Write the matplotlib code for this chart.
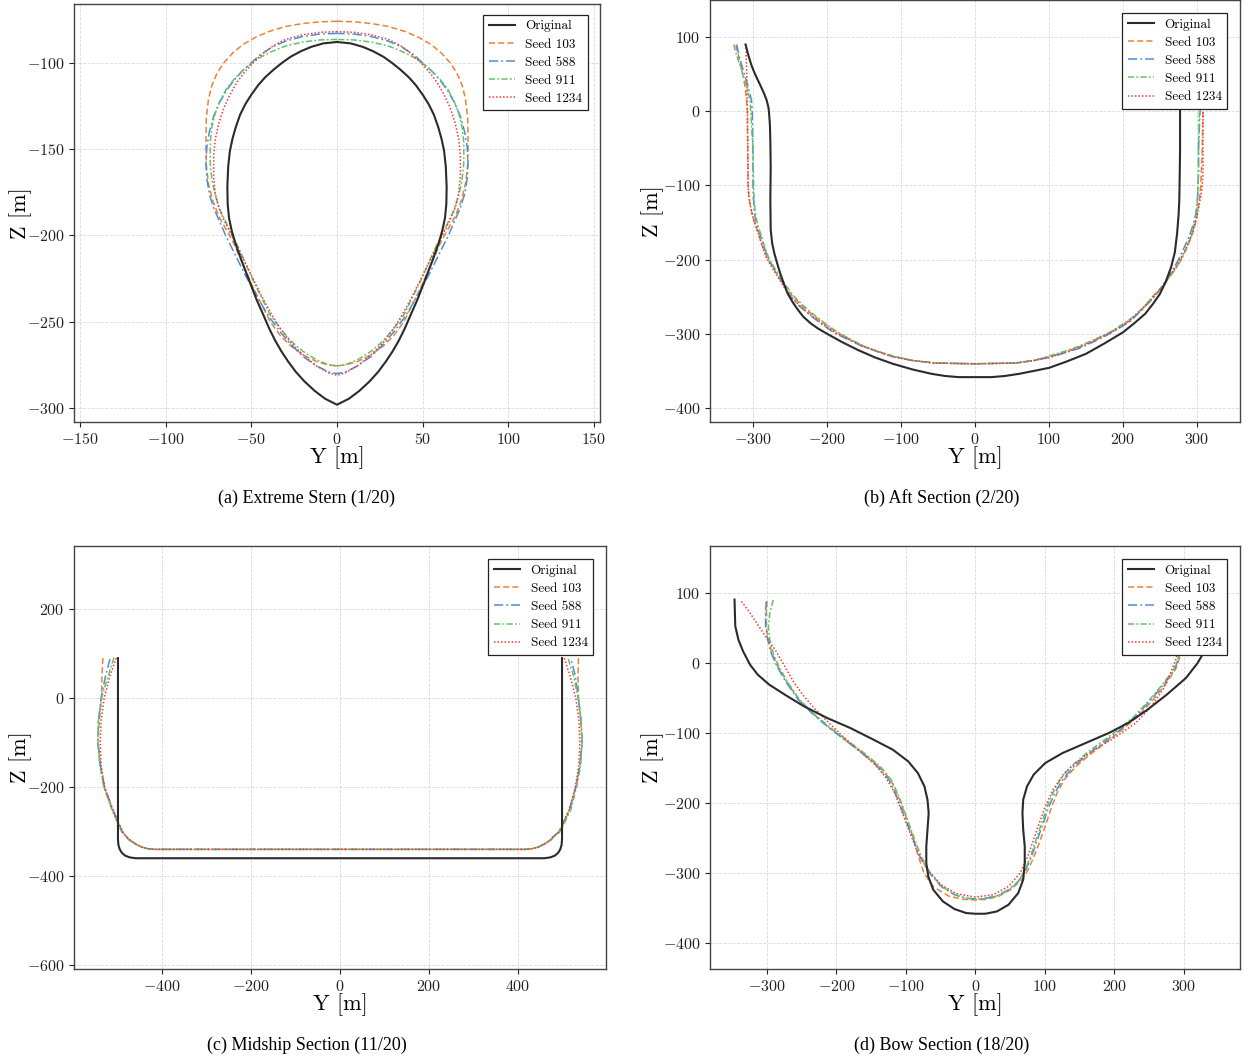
import matplotlib
matplotlib.use("Agg")
import matplotlib.pyplot as plt
import numpy as np

plt.rcParams['font.family'] = 'serif'
plt.rcParams['font.serif'] = ['cmr10', 'DejaVu Serif']
plt.rcParams['mathtext.fontset'] = 'cm'
plt.rcParams['axes.formatter.use_mathtext'] = True
plt.rcParams['axes.unicode_minus'] = True

labels = ['Original', 'Seed 103', 'Seed 588', 'Seed 911', 'Seed 1234']
colors = ['#2b2b2b', '#e8843a', '#4a90d9', '#66c266', '#ee3b3b']
styles = ['-', (0, (4, 2)), (0, (6, 2, 1.2, 2)), (0, (4, 1.5, 1.2, 1.5)), (0, (1, 1.3))]
widths = [1.5, 1.1, 1.1, 1.1, 1.1]

# (a) extreme stern: starboard half profiles (top -> keel), mirrored to port
a_orig_y = [0, 8, 15, 21, 27, 32, 37, 42, 46, 50, 53.5, 56.5, 59, 61, 62.5, 63.5, 64, 63.8, 63, 61.5, 59.5, 57, 54, 50.5, 47, 43, 39.5, 36, 32.5, 28.5, 24, 19, 13, 7, 0]
a_orig_z = [-88, -88.8, -90.8, -93.3, -96.5, -100, -104, -108.5, -113, -118.5, -124, -130, -137, -144, -151, -160, -172, -182, -190, -197, -204, -211, -219, -228, -237, -246, -254, -261, -267, -273, -279, -284.5, -290, -294.5, -298]
a_s103_y = [0, 10, 20, 30, 40, 48, 55, 61, 66, 70, 73, 75, 76.3, 76.5, 76.2, 75, 72.5, 69, 65, 61, 57, 53, 49, 44, 39, 33, 27, 20, 12, 5, 0]
a_s103_z = [-76, -76.3, -77.3, -79, -82, -85.5, -89.5, -94.5, -100, -106, -113, -121, -132, -148, -160, -170, -180, -189, -196, -203, -212, -221, -230, -240, -250, -258, -264, -269, -273, -275, -275.5]
a_s588_y = [0, 10, 20, 30, 38, 45, 50, 55, 60, 64.5, 68.5, 72, 74.5, 76, 76.5, 76, 74.5, 72, 68.5, 65, 61, 57, 53, 49, 44, 39, 33, 27, 20, 12, 5, 0]
a_s588_z = [-83, -83.4, -84.8, -87.5, -91, -95.5, -100, -104.5, -110, -116, -123, -131, -140, -149, -158, -167, -176, -184, -192, -200, -208, -216, -224, -231, -240, -248, -256, -263, -270, -275.5, -279, -280]
a_s911_y = [0, 10, 20, 30, 38, 45, 50, 55, 60, 64.5, 68, 71, 73, 74, 74, 73, 71, 68, 64.5, 61, 57, 53, 49, 44, 39, 33, 27, 20, 12, 5, 0]
a_s911_z = [-86.5, -86.8, -88, -90.3, -93.5, -97, -100.5, -104.5, -109.5, -115, -121.5, -129, -137, -146, -158, -168, -177, -186, -193, -200, -208, -217, -226, -236, -246, -254, -261, -267, -272, -274.8, -275.5]
a_s1234_y = [0, 10, 20, 30, 37, 43, 49, 54, 58.5, 62.5, 66, 69, 71, 72, 72, 71, 69, 66, 62.5, 59, 55, 51, 47, 43, 38, 33, 27, 20, 12, 5, 0]
a_s1234_z = [-82, -82.4, -83.8, -86.5, -90, -94.5, -100, -105.5, -111.5, -118.5, -126, -135, -144, -154, -166, -176, -184, -191, -198, -205, -213, -221, -229, -237, -246, -254, -262, -269, -275.5, -279.5, -281]

# (b) aft section: full contours, port top -> keel -> starboard top
b_orig_y = [-310, -306, -302, -298, -294.6, -290, -285, -281.5, -279, -278, -277, -276.5, -276, -276.5, -276, -274, -271, -267, -263, -258,
            -253, -246, -239, -232, -222, -212, -200, -180, -158, -135, -111, -85, -59, -40, -22, 22, 40, 60, 80, 100,
            125, 150, 175, 200, 215, 230, 241, 250, 258, 265, 270, 273, 275, 276, 276.5, 277, 277, 277, 278, 283, 290, 298, 308]
b_orig_z = [90, 75, 62, 52, 44.6, 35, 24, 15, 5, -5, -20, -40, -75, -120, -160, -178, -192, -206, -219, -233,
            -246, -258, -268, -277, -286, -293, -300, -311, -322, -332, -340.5, -348, -354, -357, -358.5, -358.5, -357, -354, -350, -346,
            -337, -327, -313, -298, -286, -273, -259, -246, -229, -210, -190, -165, -140, -120, -90, -55, -20, 0, 15, 35, 55, 72, 90]
b_s103_y = [-323, -319, -315, -311, -308.5, -307.5, -307, -306.5, -305.5, -303, -300, -296, -292, -288, -281, -273, -265, -256, -247, -234,
            -220, -203, -185, -168, -150, -131, -111, -85, -55, 0, 55, 80, 100, 120, 140, 160, 180, 196, 210, 226,
            240, 252, 262, 271, 278, 285, 290, 295, 298, 301, 303, 305, 307, 308, 310, 316, 323]
b_s103_z = [89, 72, 55, 35, 15, 0, -50, -100, -115, -130, -143, -155, -167, -180, -197, -211, -224, -237, -249, -262,
            -274, -287, -299, -308, -317, -324, -330, -336, -339.5, -340.5, -339.5, -336, -331, -325, -318, -309, -300, -291, -282, -267,
            -250, -237, -225, -212, -200, -187, -175, -162, -150, -135, -120, -100, -50, 0, 30, 60, 89]
b_s588_y = [-322, -318, -313, -307, -302, -301, -300, -300, -299.5, -298.5, -297, -294, -290, -286, -280, -272, -264, -257, -250, -238,
            -224, -207, -190, -171, -152, -132, -111, -85, -55, 0, 55, 80, 100, 120, 140, 160, 178, 194, 210, 224,
            238, 249, 258, 267, 275, 282, 289, 294, 298, 300, 301, 302, 302, 304, 308, 314, 320]
b_s588_z = [90, 72, 55, 35, 15, 0, -50, -100, -115, -130, -143, -155, -167, -180, -197, -211, -224, -237, -249, -262,
            -274, -287, -299, -308, -317, -324, -331, -336, -339.5, -340.5, -339.5, -336, -332, -326, -320, -311, -302, -293, -283, -269,
            -255, -242, -228, -214, -200, -185, -170, -155, -140, -125, -110, -80, -50, 0, 30, 60, 90]
b_s911_y = [-326, -321, -315, -309, -304, -303, -300, -299, -298.5, -297.5, -296, -293, -289, -285, -279, -271, -263, -254, -245, -232,
            -218, -201, -184, -167, -150, -131, -111, -85, -55, 0, 55, 80, 100, 120, 140, 161, 182, 198, 213, 228,
            242, 254, 264, 272, 279, 285, 291, 295, 298, 300, 301, 302, 302, 303, 306, 312, 318]
b_s911_z = [90, 72, 55, 35, 15, 0, -50, -100, -115, -130, -143, -155, -167, -180, -197, -211, -224, -237, -249, -262,
            -274, -287, -299, -308, -317, -324, -330, -336, -339.5, -340.5, -339.5, -336, -330, -324, -317, -308, -298, -288, -278, -264,
            -250, -236, -222, -211, -200, -186, -172, -158, -145, -130, -110, -80, -50, 0, 30, 60, 90]
b_s1234_y = [-309, -309, -308.5, -308, -308, -307.5, -307, -306.5, -305.5, -303, -300, -296, -292, -288, -282, -274, -266, -258, -250, -237,
             -223, -206, -188, -170, -151, -131, -111, -85, -55, 0, 55, 80, 100, 120, 140, 160, 180, 196, 211, 226,
             239, 251, 260, 269, 277, 284, 290, 295, 299, 302, 305, 307, 308, 308, 308, 308, 308]
b_s1234_z = [90, 72, 55, 35, 15, 0, -50, -100, -115, -130, -143, -155, -167, -180, -197, -211, -224, -237, -249, -262,
             -274, -287, -299, -308, -317, -324, -331, -336, -339.5, -340.5, -339.5, -336, -332, -326, -319, -310, -300, -291, -280, -266,
             -252, -239, -226, -213, -200, -187, -173, -159, -145, -130, -115, -100, -80, 0, 30, 60, 90]

# (c) midship section
c_orig_y = [-500, -500, -499, -496, -491, -484, -474, -460, 460, 474, 484, 491, 496, 499, 500, 500]
c_orig_z = [90, -317, -330, -340, -348, -354, -358, -360, -360, -358, -354, -348, -340, -330, -317, 90]
c_s103_y = [-534, -536, -537, -542, -545, -540, -531, -513, -491, -482, -473, -461, -446, -433, -420, 420, 433, 446, 461, 473, 482, 493, 518, 531, 540, 545, 542, 537, 536, 537]
c_s103_z = [90, 50, 0, -50, -100, -150, -200, -250, -300, -311, -320, -328, -335, -338.5, -340, -340, -338.5, -335, -328, -320, -311, -300, -250, -200, -150, -100, -50, 0, 50, 90]
c_s588_y = [-518, -528, -538, -544, -545, -540, -530, -512, -490, -481, -472, -460, -446, -433, -420, 420, 433, 446, 460, 472, 481, 494, 517, 531, 541, 545, 543, 537, 530, 520]
c_s588_z = [88, 50, 0, -50, -100, -150, -200, -250, -300, -311, -320, -328, -335, -338.5, -340, -340, -338.5, -335, -328, -320, -311, -300, -250, -200, -150, -100, -50, 0, 50, 88]
c_s911_y = [-509, -522, -537, -544, -545, -541, -532, -514, -492, -483, -474, -461, -447, -433, -420, 420, 433, 447, 461, 474, 483, 496, 520, 533, 542, 545, 543, 536, 526, 513]
c_s911_z = [91, 50, 0, -50, -100, -150, -200, -250, -300, -311, -320, -328, -335, -338.5, -340, -340, -338.5, -335, -328, -320, -311, -300, -250, -200, -150, -100, -50, 0, 50, 91]
c_s1234_y = [-504, -518, -531, -538, -540, -538, -530, -512, -490, -481, -472, -460, -446, -433, -420, 420, 433, 446, 460, 472, 481, 494, 516, 530, 538, 540, 538, 531, 518, 505]
c_s1234_z = [90, 50, 0, -50, -100, -150, -200, -250, -300, -311, -320, -328, -335, -338.5, -340, -340, -338.5, -335, -328, -320, -311, -300, -250, -200, -150, -100, -50, 0, 50, 90]

# (d) bow section
d_orig_y = [-346.7, -345.6, -341.1, -334.4, -324.4, -313.3, -296.7, -274.4, -246.7, -213.3, -180, -146.7, -118.9, -96.7, -82.8, -73.3, -68.9, -67.2, -68.9, -70.6,
            -70.6, -67.8, -60.6, -46.7, -30, -13.3, 0, 14.4, 31.1, 47.8, 61.7, 68.9, 71.1, 71.1, 68.9, 67.8, 68.9, 74.4, 83.9, 100.6,
            125.6, 158.9, 192.2, 220, 247.8, 275.6, 303.3, 320, 331.1, 338, 341, 342]
d_orig_z = [90.5, 52.4, 33.3, 16.7, -2.4, -16.7, -31, -45.2, -61.9, -78.6, -92.9, -109.5, -123.8, -140.5, -157.1, -176.2, -195.2, -214.3, -238.1, -261.9,
            -285.7, -304.8, -323.8, -340.5, -351.4, -357.1, -358.1, -358.1, -354.8, -345.2, -328.6, -309.5, -285.7, -261.9, -238.1, -214.3, -195.2, -176.2, -159.5, -142.9,
            -128.6, -114.3, -100, -85.7, -66.7, -45.2, -21.4, 0, 19, 45, 70, 90]
d_s103_y = [-300, -301, -301, -298, -293, -284.5, -270.5, -254, -235, -213, -188, -162, -139, -122, -111, -100, -90, -82, -74, -60,
            -38, -18, 0, 16, 34, 52, 66, 75, 82, 89, 96, 103, 110, 118, 128, 145, 168, 190, 212, 234,
            256, 275, 288, 295, 298, 299, 299]
d_s103_z = [88, 71, 52, 33, 14, -4.8, -28.6, -52.4, -71.4, -90.5, -109.5, -128.6, -147.6, -166.7, -190.5, -219, -247.6, -276, -300, -320,
            -333, -337.5, -338.5, -337.5, -333, -323, -310, -297, -282, -265, -246, -226, -205, -185, -166.7, -147.6, -128.6, -112, -95, -76,
            -52.4, -28.6, -9.5, 9.5, 40, 65, 88]
d_s588_y = [-301, -302, -302, -299, -294, -285.6, -271.7, -255, -235.6, -213.3, -188.3, -163.3, -141, -124.4, -113.3, -102.2, -91.1, -80, -66, -49.4,
            -30, -13.3, 0, 14.4, 31, 47.8, 61.7, 72.8, 81, 89.4, 97.8, 106, 114.4, 125.6, 142, 164, 186.7, 209, 231, 253,
            272.8, 286.7, 293.9, 297, 298, 298]
d_s588_z = [88, 71, 52, 33, 14, -4.8, -28.6, -52.4, -71.4, -90.5, -109.5, -128.6, -147.6, -166.7, -190.5, -219, -247.6, -276, -300, -319,
            -331, -335.7, -337, -336, -332.4, -323.8, -312, -295, -276, -252, -228.6, -204.8, -185.7, -166.7, -147.6, -128.6, -112, -95, -76, -52.4,
            -28.6, -9.5, 9.5, 40, 65, 88]
d_s911_y = [-291, -296, -298, -296, -291, -283, -269.5, -253, -234, -211, -186, -160, -137, -121, -110, -99.5, -89, -78, -65, -48.5,
            -29.5, -13, 0, 14.4, 31, 47.8, 61.7, 72, 79.5, 87.5, 95.5, 103.5, 111.5, 122, 138, 160, 183, 206, 229, 251,
            271, 285.5, 292.5, 296, 297, 297]
d_s911_z = [90, 71, 52, 33, 14, -4.8, -28.6, -52.4, -71.4, -90.5, -109.5, -128.6, -147.6, -166.7, -190.5, -219, -247.6, -276, -300, -319,
            -331, -336, -337.5, -336.5, -333, -324.5, -312.5, -295, -276, -252, -228.6, -204.8, -185.7, -166.7, -147.6, -128.6, -112, -95, -76, -52.4,
            -28.6, -9.5, 9.5, 40, 65, 88]
d_s1234_y = [-336.7, -324.4, -313.3, -302, -288.3, -274.4, -260.6, -246.7, -230, -210.6, -191, -168.9, -146.7, -130, -116, -105, -93.9, -82.8, -68.9, -49.4,
             -27.2, 0, 25.6, 47.8, 64.4, 75.6, 84, 92, 100.6, 111.7, 128.3, 150.6, 175.6, 203.3, 231, 253.3, 270, 281, 289.4, 294,
             296]
d_s1234_z = [88, 71.4, 54.8, 38, 19, -4.8, -28.6, -47.6, -66.7, -85.7, -104.8, -123.8, -142.9, -161.9, -185.7, -214.3, -242.9, -271.4, -295.2, -316.7,
             -329.5, -334.3, -331, -319, -300, -276, -252, -228.6, -204.8, -181, -157, -138, -121.4, -104.8, -85.7, -62, -38, -14.3, 7, 45,
             88]


def mirror(y, z):
    # starboard half (top -> keel) to a closed port + starboard contour
    y = np.asarray(y, float)
    z = np.asarray(z, float)
    return np.concatenate([-y, y[::-1][1:]]), np.concatenate([z, z[::-1][1:]])


panels = [
    dict(curves=[mirror(a_orig_y, a_orig_z), mirror(a_s103_y, a_s103_z), mirror(a_s588_y, a_s588_z),
                 mirror(a_s911_y, a_s911_z), mirror(a_s1234_y, a_s1234_z)],
         rect=[74, 4, 600, 422], xlim=(-153.5, 153.5), ylim=(-308, -66),
         xticks=[-150, -100, -50, 0, 50, 100, 150], yticks=[-100, -150, -200, -250, -300],
         leg=(0.977, 0.974), zlab=32, caption='(a) Extreme Stern (1/20)', cap=(307, 498)),
    dict(curves=[(b_orig_y, b_orig_z), (b_s103_y, b_s103_z), (b_s588_y, b_s588_z),
                 (b_s911_y, b_s911_z), (b_s1234_y, b_s1234_z)],
         rect=[710, 0, 1240, 422], xlim=(-358, 358), ylim=(-419, 150),
         xticks=[-300, -200, -100, 0, 100, 200, 300], yticks=[100, 0, -100, -200, -300, -400],
         leg=(0.9755, 0.969), zlab=664, caption='(b) Aft Section (2/20)', cap=(942, 498)),
    dict(curves=[(c_orig_y, c_orig_z), (c_s103_y, c_s103_z), (c_s588_y, c_s588_z),
                 (c_s911_y, c_s911_z), (c_s1234_y, c_s1234_z)],
         rect=[74, 546, 606, 969], xlim=(-599, 599), ylim=(-609, 342),
         xticks=[-400, -200, 0, 200, 400], yticks=[200, 0, -200, -400, -600],
         leg=(0.9756, 0.969), zlab=32, caption='(c) Midship Section (11/20)', cap=(307, 1045)),
    dict(curves=[(d_orig_y, d_orig_z), (d_s103_y, d_s103_z), (d_s588_y, d_s588_z),
                 (d_s911_y, d_s911_z), (d_s1234_y, d_s1234_z)],
         rect=[710, 546, 1240, 969], xlim=(-382, 381), ylim=(-437, 167),
         xticks=[-300, -200, -100, 0, 100, 200, 300], yticks=[100, 0, -100, -200, -300, -400],
         leg=(0.9755, 0.969), zlab=664, caption='(d) Bow Section (18/20)', cap=(942, 1045)),
]

W, H = 1247, 1061
fig = plt.figure(figsize=(W / 100, H / 100), dpi=100)

for p in panels:
    x0, y0, x1, y1 = p['rect']
    ax = fig.add_axes([x0 / W, 1 - y1 / H, (x1 - x0) / W, (y1 - y0) / H])
    for i, (y, z) in enumerate(p['curves']):
        ax.plot(y, z, color=colors[i], ls=styles[i], lw=widths[i], label=labels[i],
                zorder=3 if i == 0 else 2)
    ax.set_xlim(*p['xlim'])
    ax.set_ylim(*p['ylim'])
    ax.set_xticks(p['xticks'])
    ax.set_yticks(p['yticks'])
    ax.grid(True, color='#d9d9d9', lw=0.6, ls='--')
    ax.set_axisbelow(True)
    ax.tick_params(labelsize=11.5, length=3.5, width=0.8, colors='#222222')
    for s in ax.spines.values():
        s.set_color('#444444')
        s.set_linewidth(1.0)
    ax.set_xlabel('Y [m]', fontsize=16, labelpad=0)
    ax.set_ylabel('Z [m]', fontsize=16)
    ax.yaxis.set_label_coords((p['zlab'] - x0) / (x1 - x0), 0.5)
    leg = ax.legend(loc='upper right', bbox_to_anchor=p['leg'], borderaxespad=0,
                    fontsize=9.5, fancybox=False, framealpha=1, edgecolor='#222222',
                    handlelength=2.0, handletextpad=0.8, labelspacing=0.45)
    leg.get_frame().set_linewidth(0.9)
    leg.set_zorder(5)
    fig.text(p['cap'][0] / W, 1 - p['cap'][1] / H, p['caption'], ha='center', va='center',
             fontsize=13, family='Liberation Serif')

fig.savefig('out.png', dpi=100)
